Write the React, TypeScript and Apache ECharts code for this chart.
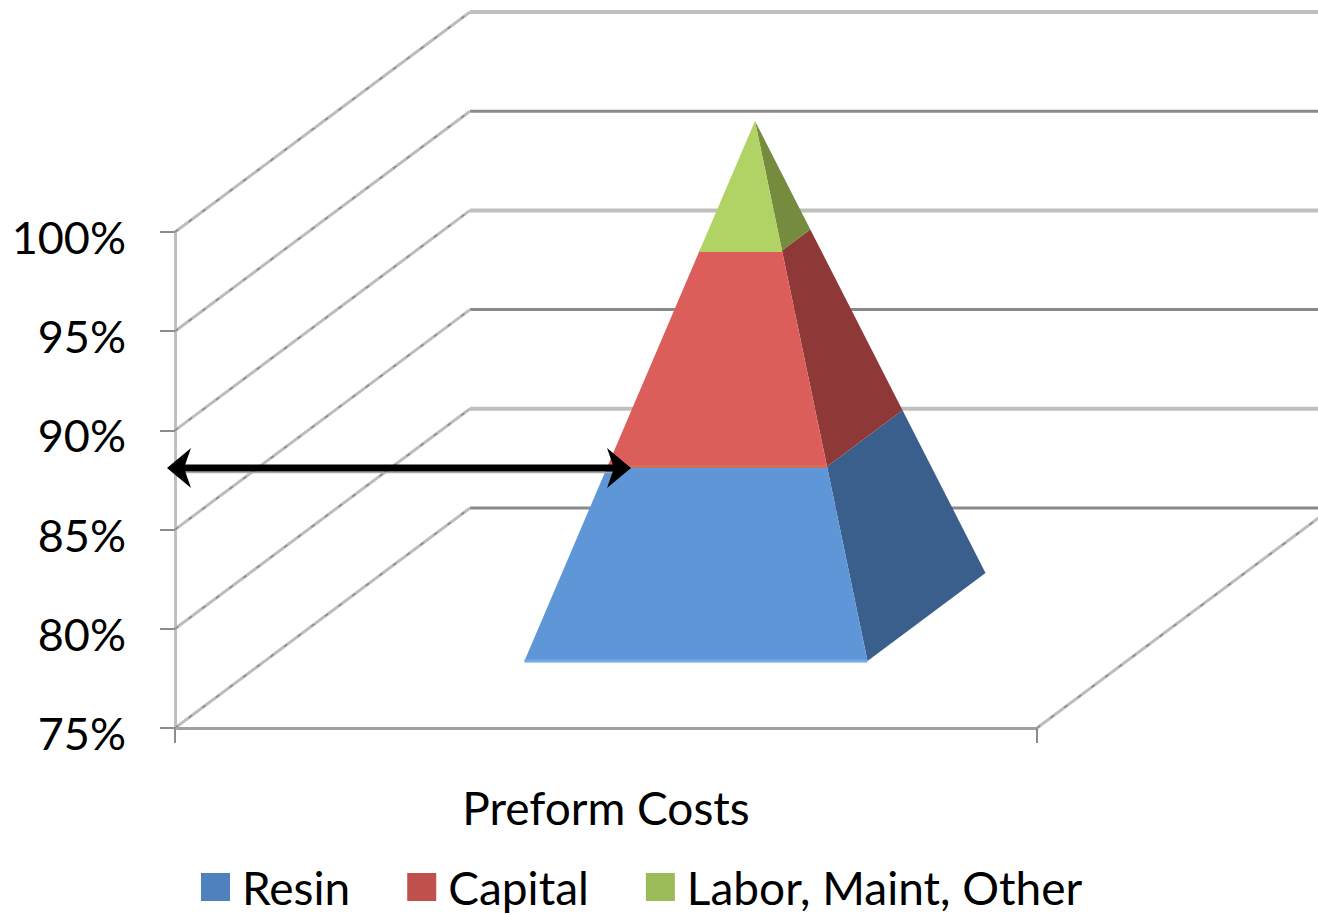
import React, { useEffect, useRef } from "react";
import * as echarts from "echarts";

// Percent of preform cost carried by each component, stacked on a truncated axis.
const categories = ["Preform Costs"];
const componentNames = ["Resin", "Capital", "Labor, Maint, Other"];
const componentShares = [84, 10, 6];
const yTicks = [75, 80, 85, 90, 95, 100];
const resinMarker = 88.1;

const legendColors = ["#4F81BD", "#C0504D", "#9BBB59"];
const frontColors = ["#5F96D7", "#DB5E5B", "#B1D366"];
const sideColors = ["#3B5F8D", "#8E3938", "#758C3E"];
const seamColors = ["#72A8E6", "#D06F5E", "#B1D366"];

// Oblique projection of the chart's box: how far the back wall is shifted on screen.
const WALL_DX = 295;
const WALL_DY = 220;
const AXIS_BASE = 75;
const AXIS_TOP = 100;
// Pyramid footprint, in fractions of band width and of box depth.
const HALF_WIDTH = 0.199;
const DEPTH_CENTER = 0.505;
const HALF_DEPTH = 0.2;
const FONT = "Lato";

const renderPyramidSlice = (colorIndex: number) => (_: any, api: any) => {
  const lo = api.value(1);
  const hi = api.value(2);
  const band = api.size([1, 0])[0];
  const corner = (v: number, side: "left" | "right", face: "front" | "back") => {
    const taper = 1 - (v - AXIS_BASE) / (AXIS_TOP - AXIS_BASE);
    const [cx, y] = api.coord([0, v]);
    const xf = (side === "left" ? -1 : 1) * HALF_WIDTH * taper;
    const depth = DEPTH_CENTER + (face === "front" ? -1 : 1) * HALF_DEPTH * taper;
    return [cx + xf * band + depth * WALL_DX, y - depth * WALL_DY];
  };
  const a = corner(lo, "left", "front");
  const b = corner(lo, "right", "front");
  const c = corner(hi, "right", "front");
  const d = corner(hi, "left", "front");
  const e = corner(lo, "right", "back");
  const f = corner(hi, "right", "back");
  return {
    type: "group",
    children: [
      { type: "polygon", shape: { points: [b, e, f, c] }, style: { fill: sideColors[colorIndex] } },
      { type: "polygon", shape: { points: [a, b, c, d] }, style: { fill: frontColors[colorIndex] } },
      {
        type: "line",
        shape: { x1: a[0], y1: a[1], x2: b[0], y2: b[1] },
        style: { stroke: seamColors[colorIndex], lineWidth: 3 },
      },
    ],
  };
};

// A wall diagonal: a light stroke with short darker flecks along it.
const diagonal = (x1: number, y1: number, x2: number, y2: number) => [
  { type: "line", shape: { x1, y1, x2, y2 }, style: { stroke: "#BDBDBD", lineWidth: 3 } },
  {
    type: "line",
    shape: { x1, y1, x2, y2 },
    style: { stroke: "#8A8A8A", lineWidth: 1.5, lineDash: [4, 13] },
  },
];

// Gridlines run from the value axis across the side wall, then along the back wall.
const renderWallLine = (params: any, api: any) => {
  const v = api.value(1);
  const band = api.size([1, 0])[0];
  const [cx, y] = api.coord([0, v]);
  const left = cx - band / 2;
  const right = cx + band / 2;
  const backColor = params.dataIndex % 2 === 0 ? "#8A8A8A" : "#BFBFBF";
  const children: any[] = [
    {
      type: "line",
      shape: { x1: left + WALL_DX, y1: y - WALL_DY, x2: right + WALL_DX, y2: y - WALL_DY },
      style: { stroke: backColor, lineWidth: params.dataIndex % 2 === 0 ? 3 : 4 },
    },
    ...diagonal(left, y, left + WALL_DX, y - WALL_DY),
  ];
  if (v === AXIS_BASE) {
    children.push(...diagonal(right, y, right + WALL_DX, y - WALL_DY));
  }
  return { type: "group", children };
};

// Double-headed arrow from the value axis to the pyramid at the resin level.
const renderMarker = (_: any, api: any) => {
  const band = api.size([1, 0])[0];
  const [cx, y] = api.coord([0, api.value(1)]);
  const x1 = cx - band / 2 - 8;
  const x2 = cx + 25;
  return {
    type: "group",
    children: [
      {
        type: "line",
        shape: { x1: x1 + 16, y1: y + 4.5, x2: x2 - 16, y2: y + 4.5 },
        style: { stroke: "#A6A6A6", lineWidth: 1.5 },
      },
      {
        type: "line",
        shape: { x1: x1 + 14, y1: y, x2: x2 - 14, y2: y },
        style: { stroke: "#000000", lineWidth: 7 },
      },
      {
        type: "polygon",
        shape: { points: [[x1, y], [x1 + 24, y - 20], [x1 + 17, y], [x1 + 24, y + 20]] },
        style: { fill: "#000000" },
      },
      {
        type: "polygon",
        shape: { points: [[x2, y], [x2 - 24, y - 20], [x2 - 17, y], [x2 - 24, y + 20]] },
        style: { fill: "#000000" },
      },
    ],
  };
};

export default function App() {
  const ref = useRef<HTMLDivElement>(null);

  useEffect(() => {
    document.body.style.margin = "0";
    const chart = echarts.init(ref.current!, undefined, { renderer: "svg" });
    let running = AXIS_BASE;
    const slices = componentNames.map((name, i) => {
      const lo = i === 0 ? AXIS_BASE : running;
      const hi = i === 0 ? componentShares[0] : running + componentShares[i];
      running = hi;
      return {
        type: "custom",
        name,
        renderItem: renderPyramidSlice(i),
        itemStyle: { color: legendColors[i] },
        encode: { x: 0, y: [1, 2] },
        data: [[0, lo, hi]],
        silent: true,
        z: 3,
      };
    });
    chart.setOption({
      animation: false,
      backgroundColor: "#FFFFFF",
      grid: { left: 175, right: 281, top: 232, bottom: 187 },
      legend: {
        left: 201,
        top: 864,
        padding: 0,
        icon: "rect",
        itemWidth: 29,
        itemHeight: 28,
        itemGap: 57,
        data: componentNames,
        selectedMode: false,
        textStyle: {
          fontFamily: FONT,
          fontSize: 46,
          color: "#000000",
          padding: [0, 0, 0, 7],
        },
      },
      xAxis: {
        type: "category",
        data: categories,
        axisLine: { lineStyle: { color: "#A0A0A0", width: 3 } },
        axisTick: { show: true, length: 15, lineStyle: { color: "#8C8C8C", width: 2 } },
        axisLabel: { fontFamily: FONT, fontSize: 46, color: "#000000", margin: 56 },
      },
      yAxis: {
        type: "value",
        min: AXIS_BASE,
        max: AXIS_TOP,
        interval: 5,
        splitLine: { show: false },
        axisLine: { show: true, lineStyle: { color: "#BFBFBF", width: 3 } },
        axisTick: { show: true, length: 15, lineStyle: { color: "#8C8C8C", width: 2 } },
        axisLabel: {
          margin: 49,
          formatter: "{pct|{value}%}",
          rich: {
            pct: {
              fontFamily: FONT,
              fontSize: 45,
              color: "#000000",
              padding: [10, 0, 0, 0],
            },
          },
        },
      },
      series: [
        {
          type: "custom",
          name: "Gridlines",
          renderItem: renderWallLine,
          encode: { x: 0, y: 1 },
          data: yTicks.map((v) => [0, v]),
          silent: true,
          z: 1,
        },
        ...slices,
        {
          type: "custom",
          name: "Resin level",
          renderItem: renderMarker,
          encode: { x: 0, y: 1 },
          data: [[0, resinMarker]],
          silent: true,
          z: 4,
        },
      ],
    });
    return () => chart.dispose();
  }, []);

  return <div ref={ref} style={{ width: 1318, height: 915 }} />;
}
